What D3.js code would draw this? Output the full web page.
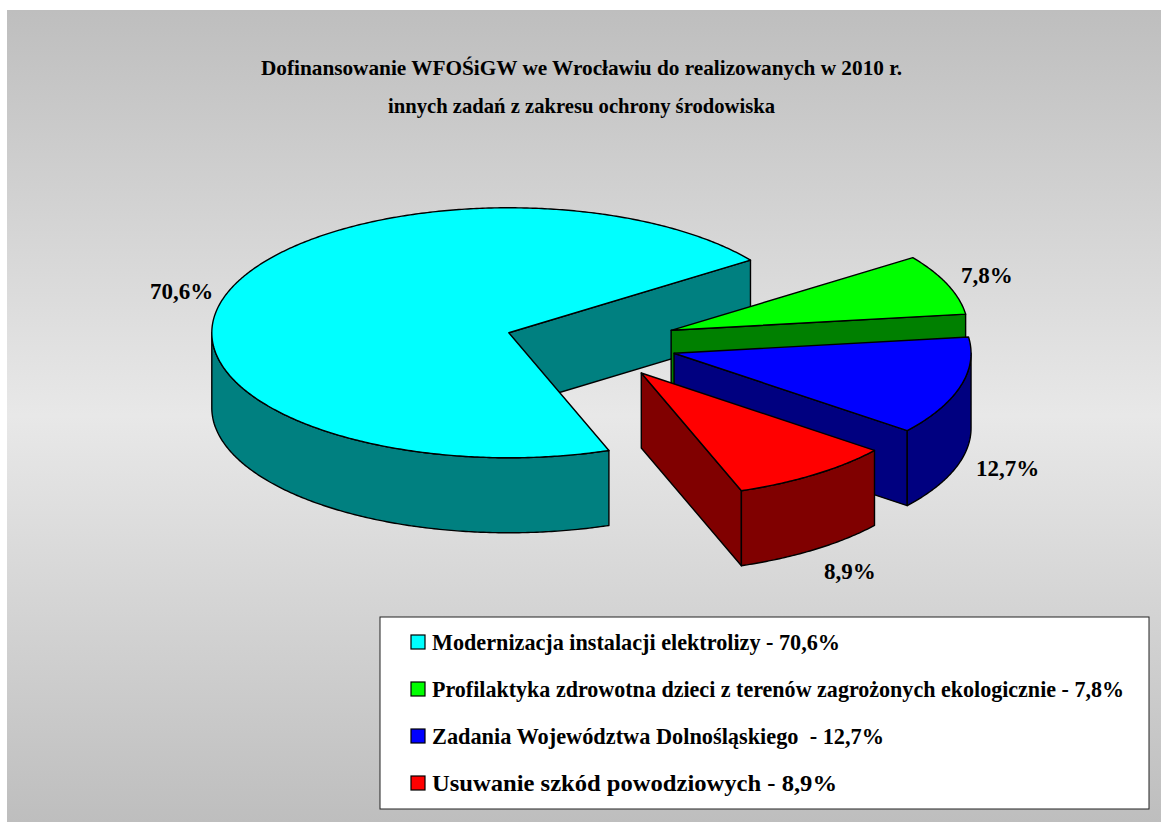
<!DOCTYPE html>
<html><head><meta charset="utf-8">
<style>html,body{margin:0;padding:0;background:#fff}svg{display:block}text{font-family:"Liberation Serif",serif;font-weight:bold;fill:#000}</style>
<script src="https://cdn.jsdelivr.net/npm/d3@7"></script>
</head><body><svg id="c" width="1163" height="822"></svg>
<script>
const categories=["Modernizacja instalacji elektrolizy","Profilaktyka zdrowotna dzieci z terenów zagrożonych ekologicznie","Zadania Województwa Dolnośląskiego ","Usuwanie szkód powodziowych"];
const values=[70.6,7.8,12.7,8.9];
const valueLabels=["70,6%","7,8%","12,7%","8,9%"];
const topColors=["#00ffff","#00ff00","#0000ff","#ff0000"];
const sideColors=["#008080","#008000","#000080","#800000"];
const titleLines=["Dofinansowanie WFOŚiGW we Wrocławiu do realizowanych w 2010 r.","innych zadań z zakresu ochrony środowiska"];
const svg=d3.select("#c");
const defs=svg.append("defs");
const g=defs.append("linearGradient").attr("id","bg").attr("x1",0).attr("y1",0).attr("x2",0).attr("y2",1);
[[0,"#bebebe"],[.5,"#e8e8e8"],[1,"#bebebe"]].forEach(s=>g.append("stop").attr("offset",s[0]).attr("stop-color",s[1]));
svg.append("rect").attr("x",7).attr("y",10).attr("width",1154).attr("height",812).attr("fill","url(#bg)");

titleLines.forEach((t,i)=>svg.append("text").attr("x",[261,388][i]).attr("y",[75,113][i]).attr("font-size",21).attr("textLength",[641,387][i]).attr("lengthAdjust","spacingAndGlyphs").text(t));

const x=d3.scaleLinear().domain([-1,1]).range([294,888]);
const y=d3.scaleLinear().domain([-1,1]).range([218.6,468.6]);
const depth=75, explode=0.29;
const start=160.3*Math.PI/180;
const arcs=d3.pie().sort(null).startAngle(start).endAngle(start+2*Math.PI)(values);
const P=(a,r,ox,oy,h=0)=>[x(ox+r*Math.sin(a)),y(oy-r*Math.cos(a))+h];
const line=d3.line();
const samp=(a0,a1)=>{const n=Math.max(2,Math.ceil(Math.abs(a1-a0)/0.01));return d3.range(n+1).map(i=>a0+(a1-a0)*i/n)};
const draw=(d,fill)=>svg.append("path").attr("d",d).attr("fill",fill).attr("stroke","#000").attr("stroke-width",1.4).attr("stroke-linejoin","round");
const fronts=[[Math.PI/2,3*Math.PI/2],[Math.PI/2+2*Math.PI,3*Math.PI/2+2*Math.PI]];
arcs.forEach((s,i)=>{
  const m=(s.startAngle+s.endAngle)/2, ox=explode*Math.sin(m), oy=-explode*Math.cos(m);
  const a=s.startAngle,b=s.endAngle,side=sideColors[i];
  const c0=P(0,0,ox,oy),c1=P(b,1,ox,oy);
  draw(line([c0,c1,[c1[0],c1[1]+depth],[c0[0],c0[1]+depth]])+"Z",side);
  fronts.forEach(r=>{
    const lo=Math.max(a,r[0]),hi=Math.min(b,r[1]);
    if(hi>lo){const A=samp(lo,hi);
      const pts=A.map(t=>P(t,1,ox,oy)).concat(A.slice().reverse().map(t=>P(t,1,ox,oy,depth)));
      draw(line(pts)+"Z",side);}
  });
  const top=[P(0,0,ox,oy)].concat(samp(a,b).map(t=>P(t,1,ox,oy)));
  draw(line(top)+"Z",topColors[i]);
});

const lblPos=[[150,299],[961,283],[976,476],[824,579]];
valueLabels.forEach((t,i)=>svg.append("text").attr("x",lblPos[i][0]).attr("y",lblPos[i][1]).attr("font-size",23).text(t));

svg.append("rect").attr("x",380).attr("y",617).attr("width",769).attr("height",192).attr("fill","#fff").attr("stroke","#222").attr("stroke-width",1);
const widths=[408,692,452,405];
categories.forEach((c,i)=>{
  const ty=650+47*i;
  svg.append("rect").attr("x",411).attr("y",ty-15).attr("width",14).attr("height",14).attr("fill",topColors[i]).attr("stroke","#000").attr("stroke-width",1.2);
  svg.append("text").attr("x",432).attr("y",ty).attr("font-size",23).style("white-space","pre").attr("textLength",widths[i]).attr("lengthAdjust","spacingAndGlyphs").text(c+" - "+valueLabels[i]);
});
</script></body></html>
